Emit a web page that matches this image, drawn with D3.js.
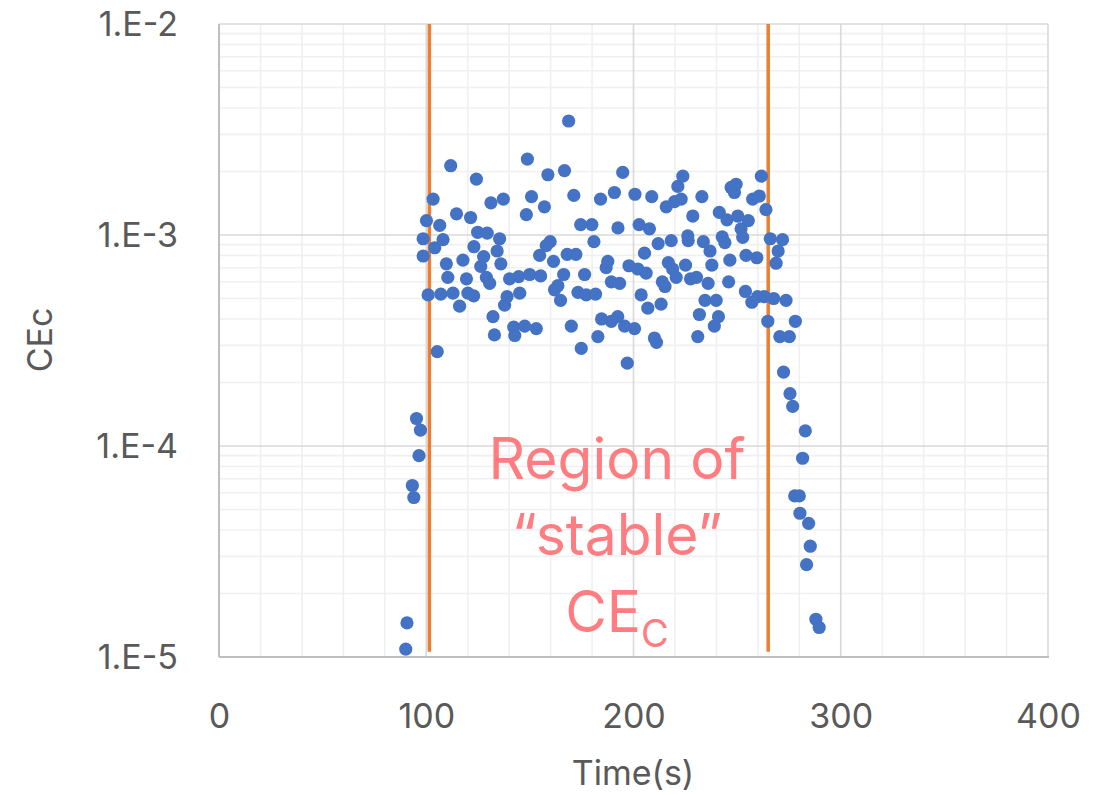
<!DOCTYPE html>
<html>
<head>
<meta charset="utf-8">
<script src="https://cdn.jsdelivr.net/npm/d3@7"></script>
<style>
  html, body { margin: 0; padding: 0; background: #ffffff; }
  svg { display: block; }
  text { font-family: "Inter", "Open Sans", sans-serif; }
</style>
</head>
<body>
<svg id="chart" width="1104" height="795"></svg>
<script>
// ---- data ----
const time = [
  90.1, 90.7, 93.3, 94.0, 95.3, 96.5, 97.2, 98.5, 98.5, 100.1,
  100.9, 103.3, 104.1, 105.3, 106.5, 107.0, 108.1, 109.7, 110.4, 111.8,
  112.9, 114.6, 116.1, 117.7, 119.4, 120.1, 121.4, 122.9, 123.0, 124.2,
  124.8, 126.3, 127.7, 129.0, 129.4, 130.6, 131.2, 132.2, 132.9, 134.2,
  135.4, 136.0, 137.2, 137.8, 139.0, 140.2, 142.2, 142.7, 144.6, 145.1,
  147.5, 148.3, 148.8, 149.9, 150.8, 153.1, 154.7, 155.2, 157.0, 157.9,
  158.7, 159.8, 161.4, 161.9, 163.5, 164.8, 166.3, 166.7, 168.0, 168.7,
  170.0, 171.2, 172.2, 173.2, 174.5, 174.8, 176.4, 177.2, 179.9, 180.9,
  181.7, 182.8, 184.1, 184.6, 186.8, 187.6, 189.3, 189.3, 190.8, 192.4,
  192.5, 193.3, 194.8, 195.7, 197.0, 197.8, 200.5, 200.7, 202.1, 202.7,
  203.7, 205.3, 206.1, 206.9, 207.7, 208.8, 210.1, 211.1, 211.9, 213.3,
  213.9, 215.2, 215.8, 216.8, 218.2, 218.9, 219.8, 220.6, 221.4, 223.0,
  223.8, 225.1, 226.2, 226.4, 227.5, 228.6, 230.4, 231.0, 231.8, 233.0,
  233.7, 234.5, 236.0, 236.9, 237.8, 239.0, 239.9, 241.0, 241.4, 242.8,
  244.1, 245.1, 245.9, 246.5, 247.1, 248.7, 249.5, 250.3, 251.9, 252.7,
  254.0, 254.3, 255.4, 257.1, 257.5, 259.5, 259.9, 260.7, 261.7, 263.1,
  263.9, 264.8, 266.0, 267.6, 268.8, 269.8, 270.6, 271.9, 272.4, 273.6,
  275.2, 275.5, 276.8, 278.1, 282.9, 281.6, 277.8, 280.0, 280.3, 284.5,
  285.3, 283.5, 288.0, 289.6
];
const cec = [
  1.09e-5, 1.45e-5, 6.5e-5, 5.7e-5, 1.35e-4, 9.0e-5, 1.19e-4, 9.6e-4, 7.95e-4, 1.17e-3,
  5.2e-4, 1.48e-3, 8.7e-4, 2.8e-4, 1.11e-3, 5.25e-4, 9.5e-4, 7.3e-4, 6.3e-4, 2.13e-3,
  5.3e-4, 1.26e-3, 4.6e-4, 7.6e-4, 6.2e-4, 5.3e-4, 1.21e-3, 5.15e-4, 8.8e-4, 1.84e-3,
  1.03e-3, 7.1e-4, 7.9e-4, 6.3e-4, 1.02e-3, 5.9e-4, 1.42e-3, 4.1e-4, 3.36e-4, 8.4e-4,
  9.6e-4, 7.3e-4, 1.48e-3, 4.65e-4, 5.1e-4, 6.2e-4, 3.66e-4, 3.34e-4, 6.35e-4, 5.3e-4,
  3.7e-4, 1.25e-3, 2.29e-3, 6.5e-4, 1.52e-3, 3.6e-4, 8.0e-4, 6.4e-4, 1.36e-3, 8.9e-4,
  1.93e-3, 9.3e-4, 7.5e-4, 5.5e-4, 5.75e-4, 4.9e-4, 6.5e-4, 2.02e-3, 8.1e-4, 3.47e-3,
  3.7e-4, 1.54e-3, 8.1e-4, 5.35e-4, 1.12e-3, 2.9e-4, 6.5e-4, 5.2e-4, 1.12e-3, 9.3e-4,
  5.25e-4, 3.3e-4, 1.48e-3, 4.0e-4, 7.0e-4, 7.5e-4, 3.9e-4, 6.0e-4, 1.59e-3, 4.1e-4,
  1.08e-3, 5.9e-4, 1.98e-3, 3.7e-4, 2.47e-4, 7.15e-4, 3.6e-4, 1.56e-3, 6.9e-4, 1.12e-3,
  5.2e-4, 8.2e-4, 6.6e-4, 4.5e-4, 1.07e-3, 1.52e-3, 3.25e-4, 3.1e-4, 9.1e-4, 4.7e-4,
  6.0e-4, 5.7e-4, 1.36e-3, 7.4e-4, 9.4e-4, 6.9e-4, 1.44e-3, 6.3e-4, 1.70e-3, 1.48e-3,
  1.90e-3, 7.2e-4, 9.9e-4, 9.4e-4, 6.2e-4, 1.23e-3, 6.3e-4, 3.3e-4, 4.2e-4, 1.52e-3,
  9.3e-4, 4.9e-4, 5.9e-4, 8.4e-4, 7.2e-4, 3.7e-4, 4.9e-4, 4.1e-4, 1.28e-3, 9.8e-4,
  9.2e-4, 1.18e-3, 6.0e-4, 7.6e-4, 1.68e-3, 1.59e-3, 1.74e-3, 1.23e-3, 1.07e-3, 9.75e-4,
  5.4e-4, 8.0e-4, 1.17e-3, 4.8e-4, 1.48e-3, 7.8e-4, 5.1e-4, 1.53e-3, 1.90e-3, 5.1e-4,
  1.32e-3, 3.9e-4, 9.6e-4, 5.0e-4, 7.35e-4, 8.4e-4, 3.3e-4, 9.5e-4, 2.24e-4, 4.9e-4,
  3.3e-4, 1.77e-4, 1.54e-4, 3.9e-4, 1.18e-4, 8.75e-5, 5.8e-5, 5.8e-5, 4.8e-5, 4.3e-5,
  3.35e-5, 2.74e-5, 1.51e-5, 1.38e-5
];
const regionBounds = [101.5, 265.0];
const xTicks = [0, 100, 200, 300, 400];
const xTickLabels = ["0", "100", "200", "300", "400"];
const yTicks = [1e-5, 1e-4, 1e-3, 1e-2];
const yTickLabels = ["1.E-5", "1.E-4", "1.E-3", "1.E-2"];
const xTitle = "Time(s)";
const yTitle = "CEc";
const noteLines = ["Region of", "\u201Cstable\u201D"];
const noteMain = "CE";
const noteSub = "C";

// ---- layout ----
const svg = d3.select("#chart");
const L = 219, R = 1048, T = 24, B = 657;
const x = d3.scaleLinear().domain([0, 400]).range([L, R]);
const y = d3.scaleLog().domain([1e-5, 1e-2]).range([B, T]);

const grid = svg.append("g");
// minor vertical gridlines every 20
const xMinor = d3.range(20, 400, 20).filter(v => v % 100 !== 0);
grid.selectAll(".vminor").data(xMinor).join("line")
  .attr("x1", d => x(d)).attr("x2", d => x(d))
  .attr("y1", T).attr("y2", B)
  .attr("stroke", "#f0f0f0").attr("stroke-width", 1.6);
// minor horizontal gridlines
const yMinor = [];
[1e-5, 1e-4, 1e-3].forEach(dec => { for (let k = 2; k <= 9; k++) yMinor.push(k * dec); });
grid.selectAll(".hminor").data(yMinor).join("line")
  .attr("x1", L).attr("x2", R)
  .attr("y1", d => y(d)).attr("y2", d => y(d))
  .attr("stroke", "#f0f0f0").attr("stroke-width", 1.6);
// major vertical
grid.selectAll(".vmajor").data(xTicks.slice(1)).join("line")
  .attr("x1", d => x(d)).attr("x2", d => x(d))
  .attr("y1", T).attr("y2", B)
  .attr("stroke", "#d9d9d9").attr("stroke-width", 1.6);
// major horizontal
grid.selectAll(".hmajor").data(yTicks.slice(1)).join("line")
  .attr("x1", L).attr("x2", R)
  .attr("y1", d => y(d)).attr("y2", d => y(d))
  .attr("stroke", "#d9d9d9").attr("stroke-width", 1.6);

// axis lines
svg.append("line").attr("x1", L).attr("x2", L).attr("y1", T).attr("y2", B)
  .attr("stroke", "#bfbfbf").attr("stroke-width", 2);
svg.append("line").attr("x1", L).attr("x2", R + 1).attr("y1", B).attr("y2", B)
  .attr("stroke", "#bfbfbf").attr("stroke-width", 2);

// tick labels
const xAxis = d3.axisBottom(x).tickValues(xTicks).tickSize(0)
  .tickFormat((d, i) => xTickLabels[i]);
const gx = svg.append("g").attr("transform", `translate(0,${B})`).call(xAxis);
gx.select(".domain").remove();
gx.selectAll("text").attr("dy", null).attr("y", 71)
  .attr("font-size", 34).attr("fill", "#595959")
  .style("font-family", "Inter, 'Open Sans', sans-serif");

const yAxis = d3.axisLeft(y).tickValues(yTicks).tickSize(0)
  .tickFormat((d, i) => yTickLabels[i]);
const gy = svg.append("g").attr("transform", `translate(${L},0)`).call(yAxis);
gy.select(".domain").remove();
gy.selectAll("text").attr("x", -41).attr("dy", "0.35em")
  .attr("font-size", 34).attr("fill", "#595959")
  .style("font-family", "Inter, 'Open Sans', sans-serif");

// axis titles
svg.append("text").attr("x", 633).attr("y", 785)
  .attr("text-anchor", "middle").attr("font-size", 34).attr("fill", "#595959")
  .text(xTitle);
svg.append("text").attr("transform", "translate(52,340) rotate(-90)")
  .attr("text-anchor", "middle").attr("font-size", 34).attr("fill", "#595959")
  .text(yTitle);

// region boundary lines
svg.selectAll(".bound").data(regionBounds).join("line")
  .attr("x1", d => x(d)).attr("x2", d => x(d))
  .attr("y1", y(1e-2)).attr("y2", y(1.06e-5))
  .attr("stroke", "#ed7d31").attr("stroke-width", 3.5);

// points
const pts = time.map((t, i) => ({ t, v: cec[i] }));
svg.append("g").selectAll("circle").data(pts).join("circle")
  .attr("cx", d => x(d.t)).attr("cy", d => y(d.v)).attr("r", 6.6)
  .attr("fill", "#4472c4");

// annotation
const note = svg.append("g").attr("fill", "#ff7c80").attr("text-anchor", "middle");
note.selectAll(".ln").data(noteLines).join("text")
  .attr("x", 617).attr("y", (d, i) => 479 + i * 76)
  .attr("font-size", 57).text(d => d);
const ce = note.append("text").attr("x", 617).attr("y", 632).attr("font-size", 57);
ce.append("tspan").text(noteMain);
ce.append("tspan").attr("font-size", 38).attr("dy", 15).text(noteSub);
</script>
</body>
</html>
